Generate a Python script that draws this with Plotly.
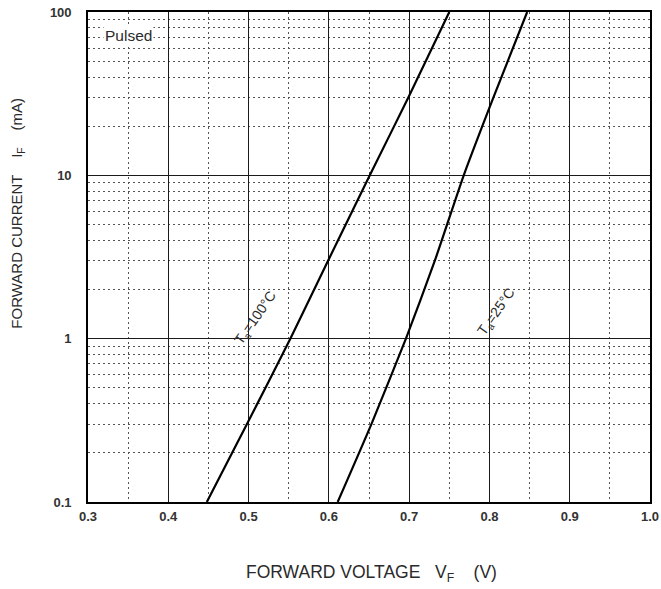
import plotly.graph_objects as go

current_ma = [0.1, 0.3, 1, 3, 10, 30, 100]
vf_100c = [0.448, 0.498, 0.552, 0.599, 0.651, 0.699, 0.750]
vf_25c = [0.611, 0.653, 0.696, 0.732, 0.768, 0.805, 0.847]
x_ticks = [0.3, 0.4, 0.5, 0.6, 0.7, 0.8, 0.9, 1.0]
y_ticks = [0.1, 1, 10, 100]
y_ticktext = ["0.1", "1", "10", "100"]

FONT = "Liberation Sans, Arial, sans-serif"
TXT = "#2a2a2a"

fig = go.Figure()
for v in (vf_100c, vf_25c):
    fig.add_trace(go.Scatter(x=v, y=current_ma, mode="lines",
                             line=dict(color="black", width=2.2, shape="spline", smoothing=0.5),
                             showlegend=False, hoverinfo="skip"))

fig.update_layout(
    width=661, height=589,
    margin=dict(l=88, r=11, t=12, b=87),
    paper_bgcolor="white", plot_bgcolor="white",
    font=dict(family=FONT, color=TXT),
    xaxis=dict(range=[0.3, 1.0], tickvals=x_ticks, tickformat=".1f", automargin=False,
               showgrid=True, gridcolor="#1a1a1a", gridwidth=1.3,
               minor=dict(dtick=0.05, showgrid=True, gridcolor="#555", griddash="2px,3px", gridwidth=1.3),
               showline=True, linecolor="black", linewidth=1.6, mirror=True,
               ticks="", ticklabelstandoff=2,
               tickfont=dict(size=13, weight="bold", family=FONT, color="#333"),
               zeroline=False),
    yaxis=dict(type="log", range=[-1, 2], tickvals=y_ticks, ticktext=y_ticktext, automargin=False,
               showgrid=True, gridcolor="#1a1a1a", gridwidth=1.3,
               minor=dict(dtick="D1", showgrid=True, gridcolor="#555", griddash="2px,3px", gridwidth=1.3),
               showline=True, linecolor="black", linewidth=1.6, mirror=True,
               ticks="", ticklabelstandoff=12,
               tickfont=dict(size=13, weight="bold", family=FONT, color="#333"),
               zeroline=False),
)

fig.add_annotation(xref="paper", yref="paper", x=-0.125, y=0.59, xanchor="center", yanchor="middle",
                   text="FORWARD CURRENT&nbsp;&nbsp;&nbsp;&nbsp;I<sub>F</sub>&nbsp;&nbsp;&nbsp;&nbsp;(mA)",
                   textangle=-90, showarrow=False,
                   font=dict(size=15, family=FONT, color=TXT))
fig.add_annotation(xref="paper", yref="paper", x=0.504, y=-0.145, xanchor="center", yanchor="middle",
                   text="FORWARD VOLTAGE&nbsp;&nbsp;&nbsp;V<sub>F</sub>&nbsp;&nbsp;&nbsp;&nbsp;(V)",
                   showarrow=False,
                   font=dict(size=17.5, family=FONT, color=TXT))
fig.add_annotation(xref="paper", yref="paper", x=0.026, y=0.952, xanchor="left", yanchor="middle",
                   text="Pulsed", showarrow=False, bgcolor="white",
                   font=dict(size=15.5, family=FONT, color=TXT))
fig.add_annotation(x=0.509, y=0.127, xref="x", yref="y", yanchor="middle",
                   text="T<sub>a</sub>=100°C", textangle=-55, showarrow=False,
                   font=dict(size=14, family=FONT, color=TXT))
fig.add_annotation(x=0.809, y=0.163, xref="x", yref="y", yanchor="middle",
                   text="T<sub>a</sub>=25°C", textangle=-55, showarrow=False,
                   font=dict(size=14, family=FONT, color=TXT))

fig.write_html("out.html",
               post_script="document.body.style.margin='0';document.body.style.overflow='hidden';")
